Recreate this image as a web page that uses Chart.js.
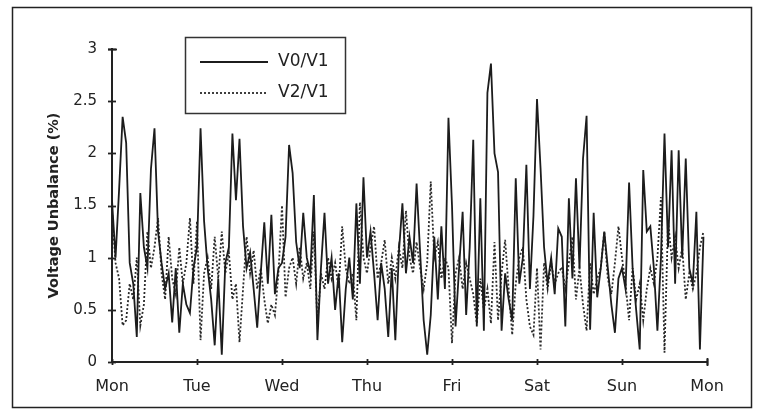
<!DOCTYPE html>
<html lang="en">
<head>
<meta charset="UTF-8" />
<title>Voltage Unbalance</title>
<script src="https://cdn.jsdelivr.net/npm/chart.js"></script>
<style>
  body { margin: 0; background: #fff; }
  canvas { display: block; }
</style>
</head>
<body>
<canvas id="chart" width="760" height="416"></canvas>
<script>
// hourly readings, Mon 00:00 -> Sun 23:00
const dayLabels = ['Mon', 'Tue', 'Wed', 'Thu', 'Fri', 'Sat', 'Sun', 'Mon'];
const yTickLabels = ['0', '0.5', '1', '1.5', '2', '2.5', '3'];
const seriesNames = ['V0/V1', 'V2/V1'];

const v0v1 = [
  1.55,1.0,1.65,2.35,2.1,0.95,0.75,0.24,1.62,1.1,0.9,1.85,2.24,1.25,0.95,0.7,0.85,0.38,0.9,0.28,0.75,0.55,0.47,0.9,
  1.1,2.24,1.35,0.9,0.6,0.16,0.8,0.07,0.95,1.1,2.19,1.55,2.14,1.3,0.9,1.05,0.7,0.33,0.85,1.34,0.75,1.41,0.65,0.9,
  0.95,1.2,2.08,1.81,1.15,0.9,1.43,1.0,0.85,1.6,0.21,0.9,1.43,0.75,1.0,0.5,0.85,0.19,0.7,1.0,0.6,1.52,0.75,1.77,
  1.0,1.25,0.85,0.4,0.95,0.7,0.24,0.9,0.21,1.05,1.52,0.85,1.2,0.95,1.71,1.05,0.4,0.07,0.45,1.2,0.6,1.3,0.7,2.34,
  1.5,0.34,0.9,1.44,0.45,1.1,2.13,0.34,1.57,0.3,2.58,2.86,2.0,1.82,0.3,0.85,0.6,0.4,1.76,0.75,1.0,1.89,0.7,1.4,
  2.52,1.86,1.1,0.75,1.0,0.65,1.28,1.2,0.34,1.57,0.8,1.76,0.9,1.95,2.36,0.31,1.43,0.62,0.9,1.25,0.9,0.55,0.28,0.8,
  0.9,0.7,1.72,0.9,0.5,0.12,1.84,1.25,1.3,0.9,0.3,1.0,2.19,1.1,2.03,0.75,2.03,1.0,1.95,0.9,0.75,1.44,0.12,1.2
];

const v2v1 = [
  1.45,0.95,0.8,0.35,0.4,0.75,0.6,1.0,0.35,0.55,1.25,0.9,1.1,1.38,0.85,0.6,1.2,0.8,0.65,1.1,0.75,0.95,1.38,0.75,
  1.35,0.21,0.85,1.0,0.7,1.2,0.8,1.25,0.85,1.05,0.6,0.75,0.19,0.7,1.2,0.85,1.07,0.7,0.9,0.6,0.37,0.55,0.45,0.85,
  1.5,0.62,0.9,1.0,0.75,1.1,0.8,0.95,0.7,1.25,0.37,0.85,0.7,1.0,0.8,0.95,0.7,1.3,0.9,0.75,0.85,0.4,1.53,1.0,
  0.85,1.1,1.3,0.8,0.95,1.17,0.75,1.0,0.8,1.1,0.9,1.45,1.0,0.85,1.15,0.9,0.7,0.95,1.73,1.0,1.15,0.8,1.0,0.9,
  0.18,0.85,1.0,0.7,0.95,0.8,0.65,0.37,0.8,0.5,0.7,0.37,1.15,0.4,0.85,1.17,0.7,0.26,0.75,1.0,1.1,0.6,0.34,0.26,
  0.9,0.12,0.95,0.7,0.95,0.75,0.85,0.91,0.7,0.95,1.2,0.6,0.9,0.55,0.3,0.95,0.65,0.8,0.9,1.25,0.8,0.65,0.95,1.3,
  1.0,0.75,0.4,0.9,0.6,0.75,0.4,0.7,0.9,0.75,1.0,1.58,0.09,1.35,1.0,1.2,0.9,1.1,0.6,0.85,0.7,0.85,1.1,1.25
];

const ink = '#222';
const toPoints = arr => arr.map((v, i) => ({ x: i, y: v }));

// outer frame, crossing tick marks and the legend box
const decorations = {
  id: 'decorations',
  afterDraw(chart) {
    const ctx = chart.ctx;
    const xs = chart.scales.x, ys = chart.scales.y;
    const ax = xs.left, ay = ys.bottom;
    ctx.save();
    ctx.strokeStyle = ink;
    ctx.lineWidth = 1.5;
    ctx.strokeRect(12.5, 7.5, 739, 400);

    ctx.lineWidth = 1.8;
    ys.ticks.forEach(t => {
      const y = Math.round(ys.getPixelForValue(t.value)) + 0.5;
      ctx.beginPath(); ctx.moveTo(ax - 4, y); ctx.lineTo(ax + 4, y); ctx.stroke();
    });
    xs.ticks.forEach(t => {
      const x = Math.round(xs.getPixelForValue(t.value)) + 0.5;
      ctx.beginPath(); ctx.moveTo(x, ay - 3); ctx.lineTo(x, ay + 3); ctx.stroke();
    });
    // end caps
    const top = Math.round(ys.top) + 0.5;
    ctx.beginPath(); ctx.moveTo(ax - 4, top); ctx.lineTo(ax + 5, top); ctx.stroke();
    const end = Math.round(xs.right) + 0.5;
    ctx.beginPath(); ctx.moveTo(end, ay - 4); ctx.lineTo(end, ay + 4); ctx.stroke();

    // legend
    ctx.strokeStyle = '#333';
    ctx.lineWidth = 1.5;
    ctx.strokeRect(185.5, 37.5, 160, 76);
    chart.data.datasets.forEach((ds, i) => {
      const y = 62 + i * 31;
      ctx.beginPath();
      ctx.setLineDash(ds.borderDash || []);
      ctx.strokeStyle = ds.borderColor;
      ctx.lineWidth = ds.borderWidth;
      ctx.moveTo(200, y); ctx.lineTo(268, y); ctx.stroke();
      ctx.setLineDash([]);
      ctx.fillStyle = ink;
      ctx.font = '17px "DejaVu Sans"';
      ctx.textBaseline = 'middle';
      ctx.fillText(ds.label, 278, y);
    });
    ctx.restore();
  }
};

new Chart(document.getElementById('chart'), {
  type: 'line',
  data: {
    datasets: [
      { label: seriesNames[0], data: toPoints(v0v1), borderColor: '#1c1c1c', borderWidth: 1.8, pointRadius: 0, tension: 0 },
      { label: seriesNames[1], data: toPoints(v2v1), borderColor: '#2a2a2a', borderWidth: 1.8, borderDash: [2, 2], pointRadius: 0, tension: 0 }
    ]
  },
  options: {
    responsive: false,
    animation: false,
    devicePixelRatio: 1,
    layout: { padding: { left: 0, top: 49, right: 53, bottom: 0 } },
    plugins: { legend: { display: false }, tooltip: { enabled: false } },
    scales: {
      x: {
        type: 'linear', min: 0, max: 168,
        afterFit: s => { s.height = 54; },
        afterBuildTicks: s => { s.ticks = dayLabels.map((d, i) => ({ value: i * 24 })); },
        ticks: {
          callback: (v) => dayLabels[v / 24],
          font: { family: 'DejaVu Sans', size: 16 }, color: ink,
          padding: 15, maxRotation: 0, autoSkip: false
        },
        grid: { display: false, drawTicks: false },
        border: { display: true, color: ink, width: 2 }
      },
      y: {
        min: 0, max: 3,
        afterFit: s => { s.width = 112; },
        ticks: {
          stepSize: 0.5,
          callback: (v, i) => yTickLabels[i],
          font: { family: 'DejaVu Sans', size: 15 }, color: ink,
          padding: 15
        },
        grid: { display: false, drawTicks: false },
        border: { display: true, color: ink, width: 2 },
        title: {
          display: true, text: 'Voltage Unbalance (%)', color: ink,
          font: { family: 'DejaVu Sans', size: 14.5, weight: 'bold' },
          padding: { top: 46, bottom: 0 }
        }
      }
    }
  },
  plugins: [decorations]
});
</script>
</body>
</html>
